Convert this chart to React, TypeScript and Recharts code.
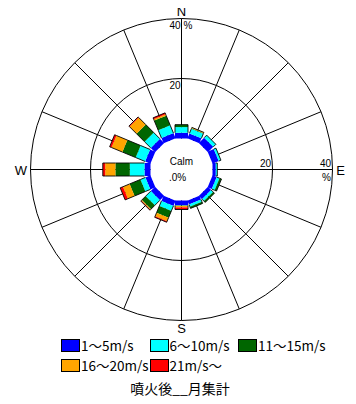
import React from 'react';
import { RadialBarChart, RadialBar, PolarGrid, PolarAngleAxis, PolarRadiusAxis } from 'recharts';

// ---- data ----
const directions = ['N', 'NNE', 'NE', 'ENE', 'E', 'ESE', 'SE', 'SSE', 'S', 'SSW', 'SW', 'WSW', 'W', 'WNW', 'NW', 'NNW'];
const speed1to5 = [1.9, 1.8, 2.5, 2.2, 1.1, 1.5, 1.5, 1.4, 1.6, 1.9, 2.0, 1.8, 2.0, 1.9, 2.0, 1.9];
const speed6to10 = [1.9, 1.7, 1.2, 0.8, 0.5, 1.0, 0.9, 0.8, 0.1, 1.8, 2.4, 1.8, 4.9, 3.4, 2.9, 2.8];
const speed11to15 = [0.8, 0.15, 0, 0, 0, 0.7, 0.6, 0.6, 0.1, 2.5, 1.8, 3.9, 4.8, 4.8, 3.8, 3.5];
const speed16to20 = [0, 0.3, 0, 0, 0, 0, 0, 0, 0.5, 1.2, 0.3, 2.4, 3.4, 3.9, 3.3, 0.5];
const speed21up = [0, 0, 0, 0, 0, 0, 0, 0, 0.7, 0.4, 0.2, 1.0, 0.8, 0.7, 0.3, 0.5];

const seriesKeys = ['s1', 's2', 's3', 's4', 's5'];
const seriesNames = ['1～5m/s', '6～10m/s', '11～15m/s', '16～20m/s', '21m/s～'];
const seriesColors = ['#0000ff', '#00ffff', '#006600', '#ffa500', '#ff0000'];
const seriesValues = [speed1to5, speed6to10, speed11to15, speed16to20, speed21up];

const radiusDomain = [0, 40];
const radiusTicks = [20, 40];
const compassLabels = ['N', 'E', 'S', 'W'];
const calmLabel = 'Calm';
const calmPercent = '.0%';
const title = '噴火後__月集計';

const data = directions.map((dir, i) => {
  const row: any = { dir };
  seriesKeys.forEach((k, j) => {
    row[k] = seriesValues[j][i];
  });
  return row;
});

// ---- layout ----
const W = 348;
const H = 335;
const CX = 173.5;
const CY = 161.5;
const R0 = 31;
const R1 = 151;
const BAR_W = 13;
const N_DIR = directions.length;
const STEP = 360 / N_DIR;
const START = 90 - STEP / 2;

const latin = '"Liberation Sans", Arial, sans-serif';
const cjk = '"Noto Sans CJK JP", sans-serif';

const makeShape = (k: number) => (props: any) => {
  const { cx, cy, innerRadius, outerRadius, startAngle, endAngle, payload } = props;
  const c0 = cx ?? CX;
  const c1 = cy ?? CY;
  const mid = (startAngle + endAngle) / 2;
  const rad = (-mid * Math.PI) / 180;
  const dx = Math.cos(rad);
  const dy = Math.sin(rad);
  const px = -dy;
  const py = dx;
  const h = BAR_W / 2;
  const pt = (r: number, s: number) => [c0 + dx * r + px * s * h, c1 + dy * r + py * s * h];
  const a = pt(innerRadius, -1);
  const b = pt(outerRadius, -1);
  const c = pt(outerRadius, 1);
  const d = pt(innerRadius, 1);
  const val = payload ? payload[seriesKeys[k]] : 0;
  let isLast = val > 0;
  if (payload) {
    for (let j = k + 1; j < seriesKeys.length; j++) if (payload[seriesKeys[j]] > 0) isLast = false;
  }
  if (!(outerRadius > innerRadius)) return <g />;
  const poly = [a, b, c, d].map((p) => p.join(',')).join(' ');
  return (
    <g>
      <polygon points={poly} fill={seriesColors[k]} stroke="none" />
      {k > 0 && (
        <>
          <line x1={a[0]} y1={a[1]} x2={b[0]} y2={b[1]} stroke="#000" strokeWidth={0.9} />
          <line x1={d[0]} y1={d[1]} x2={c[0]} y2={c[1]} stroke="#000" strokeWidth={0.9} />
        </>
      )}
      {isLast && <line x1={b[0]} y1={b[1]} x2={c[0]} y2={c[1]} stroke="#000" strokeWidth={0.9} />}
    </g>
  );
};

const RadiusTick = (props: any) => {
  const { y, payload } = props;
  const r = CY - y;
  const v = payload.value;
  const isMax = v === radiusDomain[1];
  return (
    <g style={{ fontFamily: latin, fontSize: 10 }}>
      <text x={CX - 1} y={CY - r + 10} textAnchor="end" fill="#000">{v}</text>
      {isMax && <text x={CX + 2} y={CY - r + 10} textAnchor="start" fill="#000">%</text>}
      <text x={CX + r - 1.5} y={CY - 2.5} textAnchor="end" fill="#000">{v}</text>
      {isMax && <text x={CX + r - 6} y={CY + 11.5} textAnchor="middle" fill="#000">%</text>}
    </g>
  );
};

const compassPos = [
  { left: CX, top: CY - R1 - 8 },
  { left: CX + R1 + 8, top: CY },
  { left: CX, top: CY + R1 + 7 },
  { left: CX - R1 - 9.7, top: CY },
];

export default function App() {
  return (
    <div style={{ position: 'relative', width: W, height: 396, background: '#fff' }}>
      <RadialBarChart
        width={W}
        height={H}
        data={data}
        cx={CX}
        cy={CY}
        innerRadius={R0}
        outerRadius={R1}
        startAngle={START}
        endAngle={START - 360}
        layout="centric"
        margin={{ top: 0, right: 0, bottom: 0, left: 0 }}
      >
        <PolarGrid
          gridType="circle"
          stroke="#000"
          strokeWidth={1}
          polarAngles={directions.map((_, i) => 90 - i * STEP)}
        />
        <PolarAngleAxis type="category" dataKey="dir" tick={false} axisLine={false} tickLine={false} />
        <PolarRadiusAxis
          type="number"
          domain={radiusDomain}
          ticks={radiusTicks}
          angle={90}
          axisLine={false}
          tickLine={false}
          tick={<RadiusTick />}
        />
        {seriesKeys.map((k, i) => (
          <RadialBar
            key={k}
            dataKey={k}
            stackId="wind"
            fill={seriesColors[i]}
            isAnimationActive={false}
            shape={makeShape(i)}
          />
        ))}
      </RadialBarChart>

      {compassLabels.map((lab, i) => (
        <div
          key={lab}
          style={{
            position: 'absolute',
            left: compassPos[i].left,
            top: compassPos[i].top,
            transform: 'translate(-50%, -50%)',
            fontFamily: latin,
            fontSize: 13,
            lineHeight: '11px',
          }}
        >
          {lab}
        </div>
      ))}
      <div style={{ position: 'absolute', left: CX, top: CY - 8, transform: 'translate(-50%, -50%)', fontFamily: latin, fontSize: 10, lineHeight: '10px' }}>
        {calmLabel}
      </div>
      <div style={{ position: 'absolute', left: CX - 4, top: CY + 8.5, transform: 'translate(-50%, -50%)', fontFamily: latin, fontSize: 10, lineHeight: '10px' }}>
        {calmPercent}
      </div>

      {seriesNames.map((name, i) => (
        <div
          key={name}
          style={{
            position: 'absolute',
            left: 53 + (i % 3) * 88.5,
            top: 330 + Math.floor(i / 3) * 20,
            display: 'flex',
            alignItems: 'center',
            height: 14,
          }}
        >
          <div style={{ width: 17, height: 11, background: seriesColors[i], border: '1px solid #000' }} />
          <span style={{ marginLeft: 1, fontFamily: cjk, fontSize: 13.5, lineHeight: '13px', whiteSpace: 'nowrap' }}>{name}</span>
        </div>
      ))}
      <div
        style={{
          position: 'absolute',
          left: 172,
          top: 380,
          transform: 'translate(-50%, -50%)',
          fontFamily: cjk,
          fontSize: 14,
          lineHeight: '16px',
          whiteSpace: 'nowrap',
        }}
      >
        {title}
      </div>
    </div>
  );
}
